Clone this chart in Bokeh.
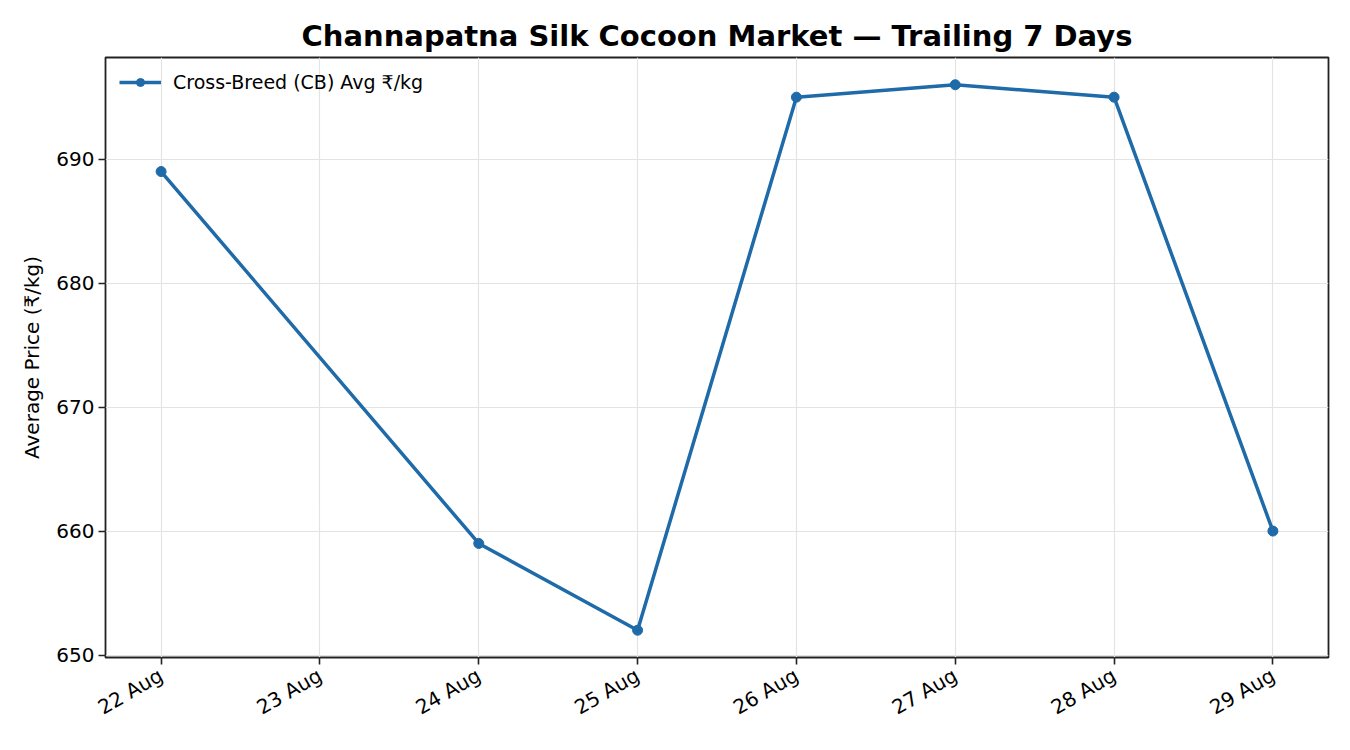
from datetime import datetime

from bokeh.embed import file_html
from bokeh.models import (ColumnDataSource, DatetimeTickFormatter, FixedTicker,
                          Range1d)
from bokeh.plotting import figure
from bokeh.resources import INLINE

# observed market days (23 Aug had no auction)
days = ["2025-08-22", "2025-08-24", "2025-08-25", "2025-08-26",
        "2025-08-27", "2025-08-28", "2025-08-29"]
cb_avg = [689, 659, 652, 695, 696, 695, 660]

# one tick per calendar day
tick_days = ["2025-08-22", "2025-08-23", "2025-08-24", "2025-08-25",
             "2025-08-26", "2025-08-27", "2025-08-28", "2025-08-29"]
y_ticks = [650, 660, 670, 680, 690]

FONT = "DejaVu Sans"
BLUE = "#1f6aa8"


def ms(s):
    return datetime.strptime(s, "%Y-%m-%d").timestamp() * 1000


xs = [datetime.strptime(d, "%Y-%m-%d") for d in days]
src = ColumnDataSource({"date": xs, "price": cb_avg})

tick_ms = [ms(d) for d in tick_days]
span = tick_ms[-1] - tick_ms[0]
lo_y, hi_y = min(cb_avg), max(cb_avg)
pad_y = (hi_y - lo_y) * 0.05

p = figure(
    x_axis_type="datetime",
    frame_width=1223,
    frame_height=600,
    min_border_left=105,
    min_border_right=14,
    min_border_top=57,
    min_border_bottom=83,
    x_range=Range1d(tick_ms[0] - span * 0.05, tick_ms[-1] + span * 0.05),
    y_range=Range1d(lo_y - pad_y, hi_y + pad_y),
    title="Channapatna Silk Cocoon Market \u2014 Trailing 7 Days",
    y_axis_label="Average Price (\u20b9/kg)",
    output_backend="svg",
    toolbar_location=None,
    background_fill_color="white",
    border_fill_color="white",
)

p.title.text_font = FONT
p.title.text_font_size = "29px"
p.title.text_font_style = "bold"
p.title.text_color = "black"
p.title.align = "center"
p.title.offset = 0
p.title.standoff = 9

p.line("date", "price", source=src, color=BLUE, line_width=3.5,
       legend_label="Cross-Breed (CB) Avg \u20b9/kg")
p.scatter("date", "price", source=src, color=BLUE, size=10,
          legend_label="Cross-Breed (CB) Avg \u20b9/kg")

p.xaxis.ticker = FixedTicker(ticks=tick_ms)
p.xaxis.formatter = DatetimeTickFormatter(days="%d %b", months="%d %b")
p.xaxis.major_label_orientation = 0.5236
p.yaxis.ticker = FixedTicker(ticks=y_ticks)

for ax in (p.xaxis, p.yaxis):
    ax.major_label_text_font = FONT
    ax.major_label_text_font_size = "20px"
    ax.major_label_text_color = "black"
    ax.axis_label_text_font = FONT
    ax.axis_label_text_font_size = "20px"
    ax.axis_label_text_font_style = "normal"
    ax.axis_label_text_color = "black"
    ax.axis_line_color = None
    ax.major_tick_in = 0
    ax.major_tick_out = 7
    ax.major_tick_line_color = "#222222"
    ax.major_tick_line_width = 1.6
    ax.minor_tick_line_color = None
    ax.major_label_standoff = 4

p.xaxis.major_label_standoff = 9
p.yaxis.axis_label_standoff = 9

p.outline_line_color = "#222222"
p.outline_line_width = 1.8
p.outline_line_alpha = 1

p.grid.grid_line_color = "#e3e3e3"
p.grid.grid_line_width = 1.2

p.legend.location = "top_left"
p.legend.border_line_color = None
p.legend.background_fill_alpha = 0
p.legend.label_text_font = FONT
p.legend.label_text_font_size = "19px"
p.legend.label_text_color = "black"
p.legend.glyph_width = 42
p.legend.label_standoff = 12
p.legend.margin = 14
p.legend.padding = 10

open("out.html", "w").write(file_html(p, INLINE))
